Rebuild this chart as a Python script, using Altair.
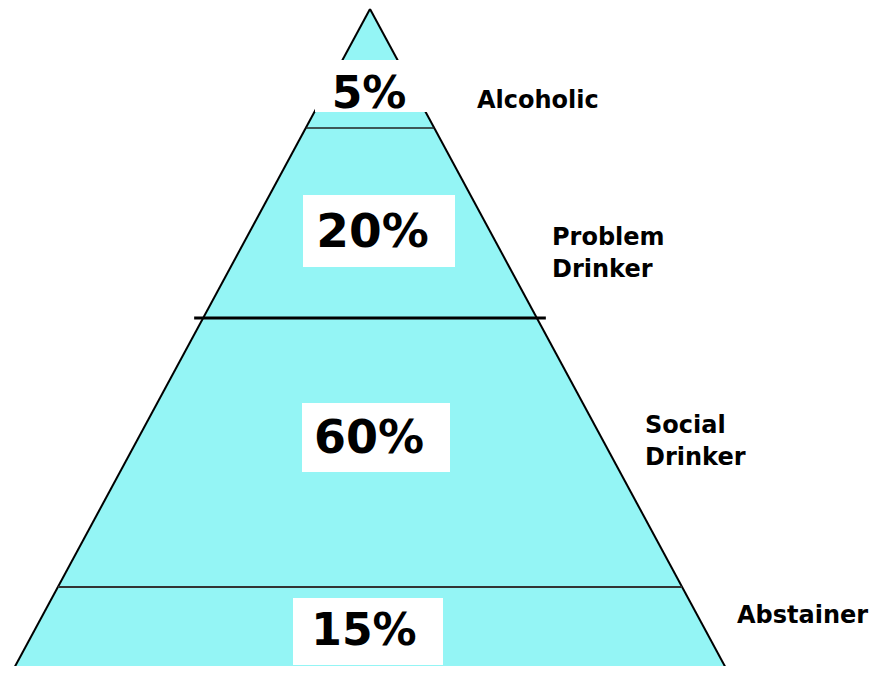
import altair as alt
import pandas as pd

# ---- data (pyramid units: depth measured down from the apex, x from the centre line)
segments = ["Alcoholic", "Problem\nDrinker", "Social\nDrinker", "Abstainer"]
shares = ["5%", "20%", "60%", "15%"]
share_font = [44, 47, 46, 44]
share_x = [-1, 2.5, -1, -6]
share_depth = [99, 238, 444, 636]
label_x = [107, 182, 275, 367]
label_depth = [99, 236, 424, 614]
box_left = [-55, -67, -68, -77]
box_right = [60, 85, 80, 73]
box_top = [51, 186, 394, 589]
box_bottom = [103, 258, 463, 656]
divider_depths = [119, 309, 578]
base_depth = 663
base_half = 358

X = alt.Scale(domain=[-362, 517])
Y = alt.Scale(domain=[-1, 657], reverse=True)


def half(d):
    return base_half * d / base_depth


tri = pd.DataFrame({"d": [0, base_depth], "l": [0, -base_half], "r": [0, base_half]})
area = alt.Chart(tri).mark_area(orient="horizontal", color="#94f5f5").encode(
    y=alt.Y("d:Q", scale=Y, axis=None),
    x=alt.X("l:Q", scale=X, axis=None),
    x2="r:Q",
)

edges_df = pd.DataFrame({"x": [0, 0], "y": [0, 0], "x2": [-base_half, base_half], "y2": [base_depth, base_depth]})
edges = alt.Chart(edges_df).mark_rule(color="black", strokeWidth=2).encode(
    x=alt.X("x:Q", scale=X, axis=None), y=alt.Y("y:Q", scale=Y, axis=None), x2="x2:Q", y2="y2:Q"
)


def divider(depth, ext, width, color):
    df = pd.DataFrame({"x": [-half(depth) - ext], "x2": [half(depth) + ext], "y": [depth]})
    return alt.Chart(df).mark_rule(color=color, strokeWidth=width).encode(
        x=alt.X("x:Q", scale=X, axis=None), x2="x2:Q", y=alt.Y("y:Q", scale=Y, axis=None)
    )


div1 = divider(divider_depths[0], 0, 1.5, "#222222")
div2 = divider(divider_depths[1], 9, 3, "black")
div3 = divider(divider_depths[2], 0, 2, "#333333")

boxes_df = pd.DataFrame({"l": box_left, "r": box_right, "t": box_top, "b": box_bottom})
boxes = alt.Chart(boxes_df).mark_rect(color="white").encode(
    x=alt.X("l:Q", scale=X, axis=None), x2="r:Q", y=alt.Y("t:Q", scale=Y, axis=None), y2="b:Q"
)

share_df = pd.DataFrame({"t": shares, "x": share_x, "y": share_depth, "fs": share_font})
share_text = alt.Chart(share_df).mark_text(
    align="center", baseline="alphabetic", font="DejaVu Sans", fontWeight="bold", color="black"
).encode(
    x=alt.X("x:Q", scale=X, axis=None),
    y=alt.Y("y:Q", scale=Y, axis=None),
    text="t:N",
    size=alt.Size("fs:Q", scale=None, legend=None),
)

lab_df = pd.DataFrame({"t": segments, "x": label_x, "y": label_depth})
labels = alt.Chart(lab_df).mark_text(
    align="left", baseline="alphabetic", font="DejaVu Sans", fontWeight="bold",
    fontSize=24, lineBreak="\n", lineHeight=32, color="black"
).encode(
    x=alt.X("x:Q", scale=X, axis=None),
    y=alt.Y("y:Q", scale=Y, axis=None),
    text="t:N",
)

chart = (
    alt.layer(area, edges, div1, div2, div3, boxes, share_text, labels)
    .properties(width=879, height=658, padding=0, autosize=alt.AutoSizeParams(type="none"))
    .configure_view(stroke=None)
)

chart.save("out.html", embed_options={"renderer": "svg", "actions": False})
